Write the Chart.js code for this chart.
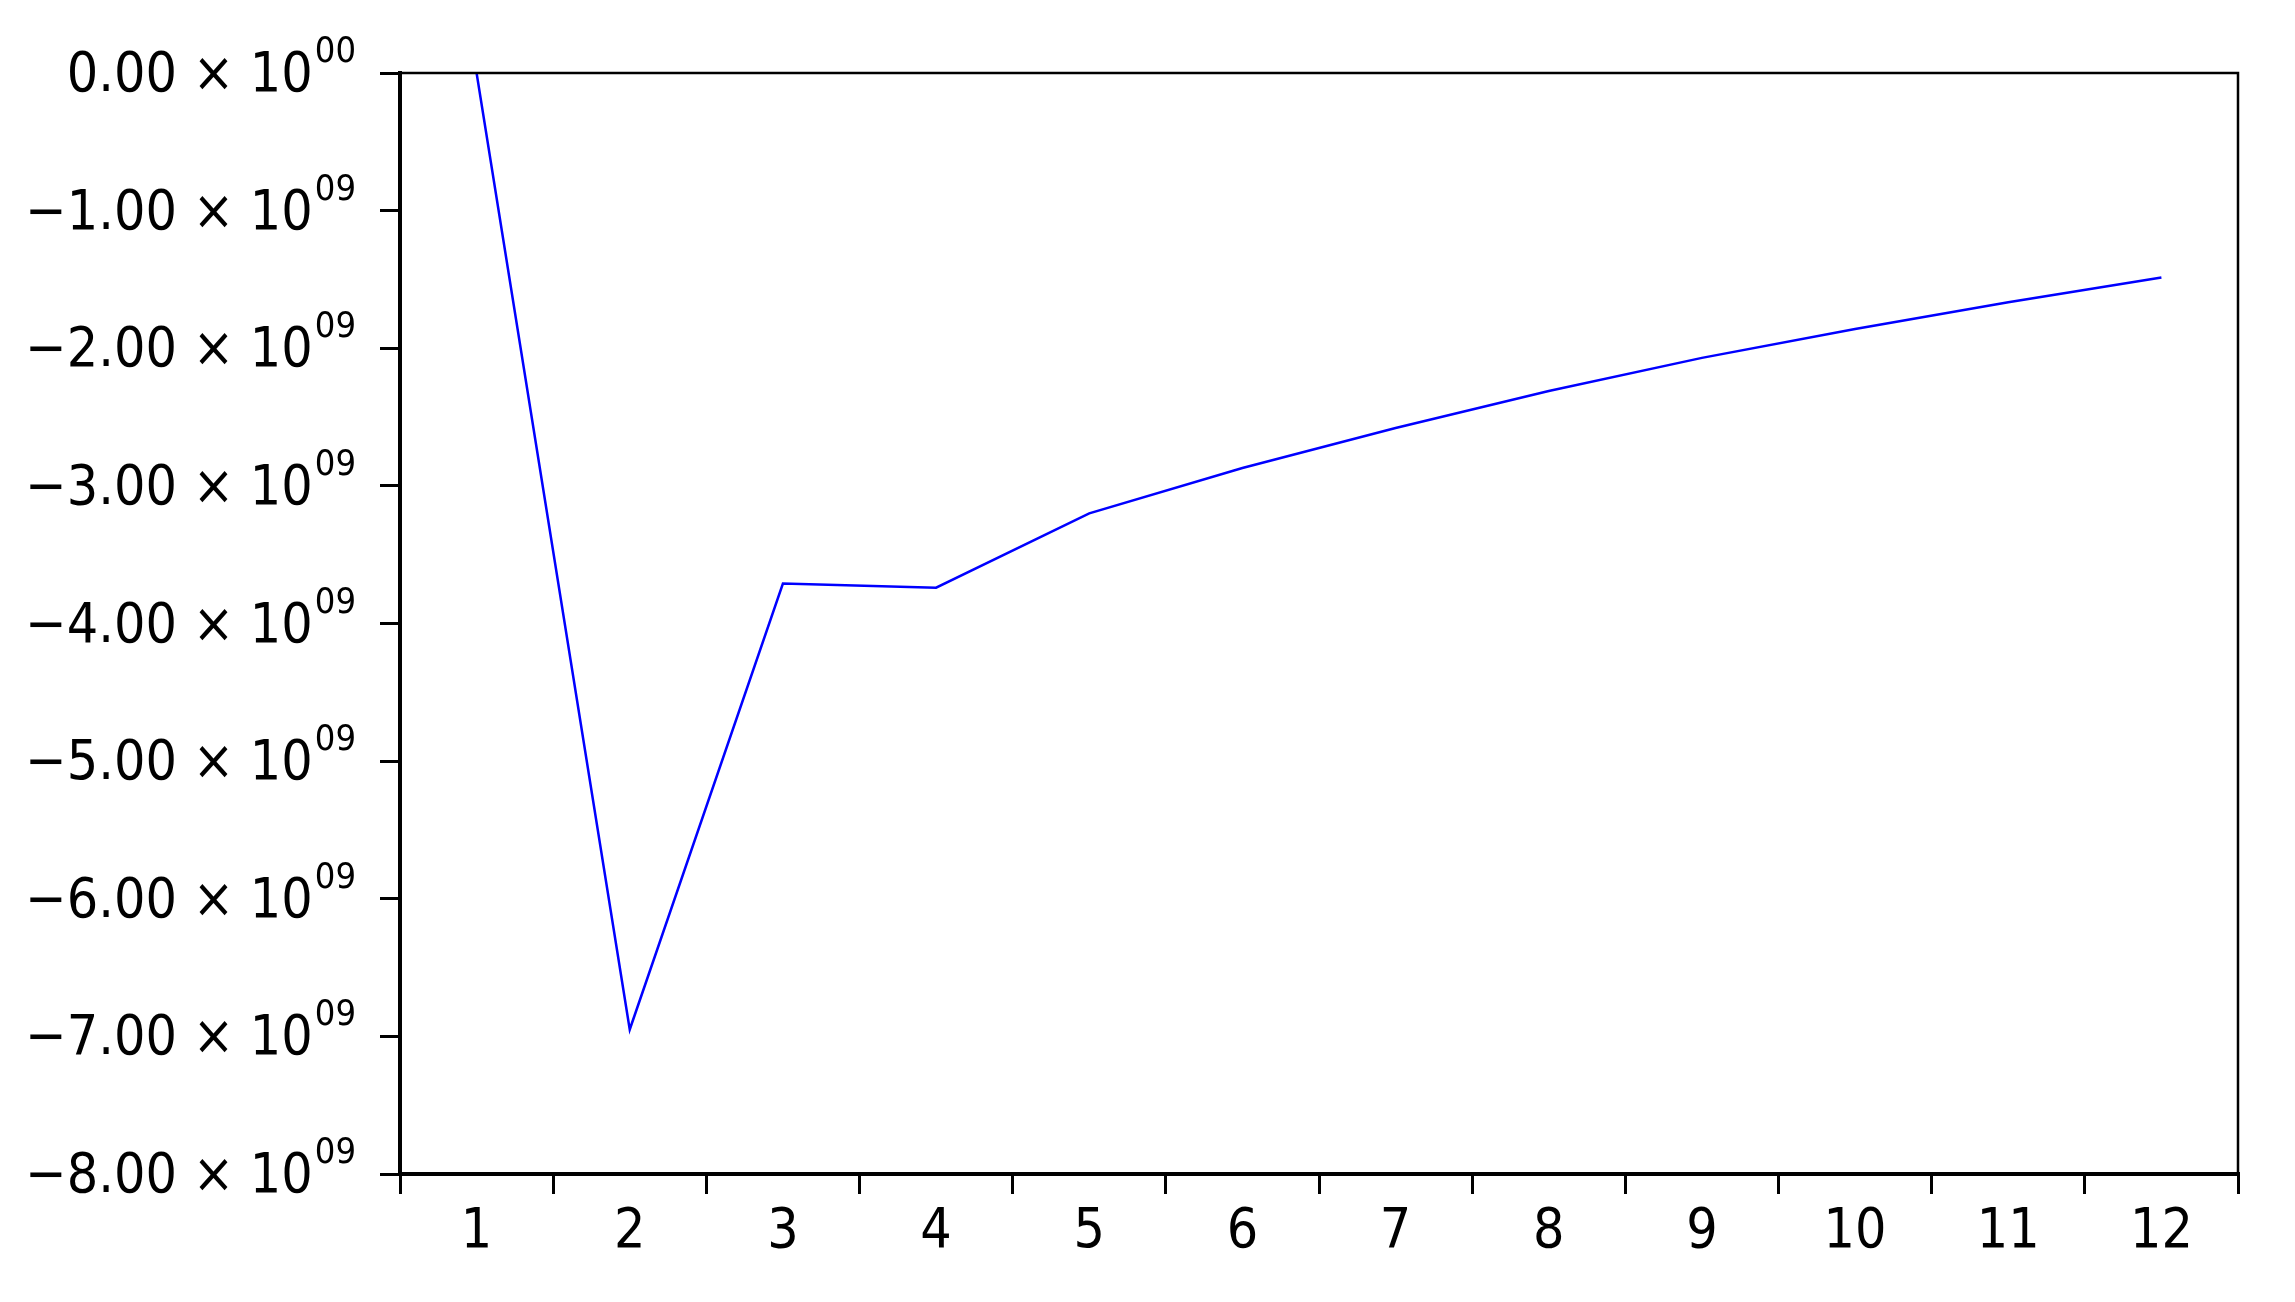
<!DOCTYPE html>
<html>
<head>
<meta charset="utf-8">
<script src="https://cdn.jsdelivr.net/npm/chart.js@4/dist/chart.umd.min.js"></script>
<style>
  html, body { margin: 0; padding: 0; background: #ffffff; }
  #wrap { width: 2295px; height: 1302px; position: relative; }
</style>
</head>
<body>
<div id="wrap"><canvas id="c" width="2295" height="1302"></canvas></div>
<script>
// ---- data ----
const categories = ["1", "2", "3", "4", "5", "6", "7", "8", "9", "10", "11", "12"];
const seriesValues = [0, -6.95e9, -3.71e9, -3.74e9, -3.20e9, -2.87e9, -2.58e9, -2.31e9, -2.07e9, -1.86e9, -1.665e9, -1.486e9];
const yTickValues = [0, -1e9, -2e9, -3e9, -4e9, -5e9, -6e9, -7e9, -8e9];
const yTickMantissas = ["0.00", "\u22121.00", "\u22122.00", "\u22123.00", "\u22124.00", "\u22125.00", "\u22126.00", "\u22127.00", "\u22128.00"];
const yTickExponents = ["00", "09", "09", "09", "09", "09", "09", "09", "09"];

const FONT_FAMILY = '"DejaVu Sans Condensed", "DejaVu Sans", sans-serif';

const yLabelPlugin = {
  id: 'yLabelPlugin',
  afterDraw(chart) {
    const ctx = chart.ctx;
    const area = chart.chartArea;
    const ys = chart.scales.y;
    ctx.save();
    // top and right frame lines
    ctx.strokeStyle = '#000';
    ctx.lineWidth = 2.5;
    ctx.beginPath();
    ctx.moveTo(area.left, area.top);
    ctx.lineTo(area.right, area.top);
    ctx.lineTo(area.right, area.bottom);
    ctx.stroke();
    // y tick labels with superscript exponent
    ctx.fillStyle = '#000';
    ctx.textBaseline = 'alphabetic';
    ctx.textAlign = 'right';
    const rightX = 356;
    for (let i = 0; i < yTickValues.length; i++) {
      const py = ys.getPixelForValue(yTickValues[i]);
      ctx.font = '36px ' + FONT_FAMILY;
      ctx.fillText(yTickExponents[i], rightX, py - 11);
      const supW = ctx.measureText(yTickExponents[i]).width;
      ctx.font = '55px ' + FONT_FAMILY;
      ctx.fillText(yTickMantissas[i] + ' \u00d7 10', rightX - supW - 2, py + 18);
    }
    ctx.restore();
  }
};

new Chart(document.getElementById('c'), {
  type: 'line',
  data: {
    labels: categories,
    datasets: [{
      data: seriesValues,
      borderColor: '#0000ff',
      borderWidth: 2.5,
      pointRadius: 0,
      tension: 0,
      fill: false,
      clip: false
    }]
  },
  options: {
    responsive: false,
    animation: false,
    devicePixelRatio: 1,
    layout: { padding: { left: 0, top: 73, right: 57, bottom: 0 } },
    plugins: { legend: { display: false }, tooltip: { enabled: false } },
    scales: {
      x: {
        type: 'category',
        offset: true,
        grid: { offset: true, drawOnChartArea: false, drawTicks: true, tickLength: 20, color: '#000', lineWidth: 3 },
        border: { display: true, color: '#000', width: 4 },
        ticks: { color: '#000', font: { family: FONT_FAMILY, size: 55 }, padding: 6, maxRotation: 0, autoSkip: false },
        afterFit: (s) => { s.height = 128; }
      },
      y: {
        min: -8e9,
        max: 0,
        grid: { drawOnChartArea: false, drawTicks: true, tickLength: 20, color: '#000', lineWidth: 3 },
        border: { display: true, color: '#000', width: 4 },
        ticks: { stepSize: 1e9, display: false },
        afterFit: (s) => { s.width = 400; }
      }
    }
  },
  plugins: [yLabelPlugin]
});
</script>
</body>
</html>
